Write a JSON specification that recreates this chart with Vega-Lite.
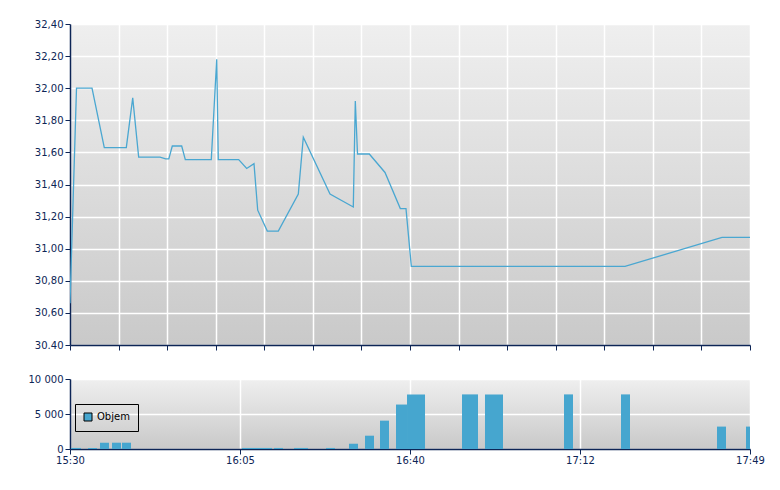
{
  "$schema": "https://vega.github.io/schema/vega-lite/v6.json",
  "padding": {"left": 28, "top": 19, "right": 5, "bottom": 5},
  "background": "white",
  "spacing": 34,
  "bounds": "flush",
  "config": {
    "font": "DejaVu Sans",
    "view": {
      "stroke": null,
      "fill": {"gradient": "linear", "x1": 0, "y1": 0, "x2": 0, "y2": 1,
        "stops": [{"offset": 0, "color": "#efefef"}, {"offset": 1, "color": "#c9c9c9"}]}
    },
    "axis": {
      "domainColor": "#0d2556", "tickColor": "#0d2556", "labelColor": "#0d2556",
      "labelFont": "DejaVu Sans", "labelFontSize": 10, "tickSize": 5, "labelPadding": 2,
      "gridColor": "#ffffff", "gridWidth": 1.5, "gridOpacity": 1, "title": null, "domainWidth": 1.5,
      "labelOverlap": false
    },
    "axisY": {"labelOverlap": false}
  },
  "datasets": {
    "price": [
      {"t": 0, "p": 30.66},
      {"t": 1.33, "p": 32.0},
      {"t": 4.5, "p": 32.0},
      {"t": 7.01, "p": 31.63},
      {"t": 11.51, "p": 31.63},
      {"t": 12.82, "p": 31.94},
      {"t": 14.04, "p": 31.57},
      {"t": 18.4, "p": 31.57},
      {"t": 19.56, "p": 31.56},
      {"t": 20.2, "p": 31.56},
      {"t": 20.91, "p": 31.64},
      {"t": 22.83, "p": 31.64},
      {"t": 23.57, "p": 31.555},
      {"t": 28.88, "p": 31.555},
      {"t": 29.99, "p": 32.18},
      {"t": 30.31, "p": 31.555},
      {"t": 34.48, "p": 31.555},
      {"t": 36.12, "p": 31.5},
      {"t": 37.61, "p": 31.53},
      {"t": 38.37, "p": 31.24},
      {"t": 40.33, "p": 31.11},
      {"t": 42.58, "p": 31.11},
      {"t": 46.67, "p": 31.34},
      {"t": 47.69, "p": 31.695},
      {"t": 53.15, "p": 31.34},
      {"t": 57.91, "p": 31.26},
      {"t": 58.32, "p": 31.92},
      {"t": 58.77, "p": 31.59},
      {"t": 61.18, "p": 31.59},
      {"t": 64.39, "p": 31.475},
      {"t": 67.52, "p": 31.25},
      {"t": 68.68, "p": 31.25},
      {"t": 69.77, "p": 30.89},
      {"t": 113.45, "p": 30.89},
      {"t": 133.28, "p": 31.07},
      {"t": 139, "p": 31.07}
    ],
    "volume": [
      {"t": 0.2, "t2": 2.25, "v": 150},
      {"t": 3.68, "t2": 5.52, "v": 150},
      {"t": 6.13, "t2": 7.97, "v": 900},
      {"t": 8.59, "t2": 10.42, "v": 900},
      {"t": 10.63, "t2": 12.47, "v": 900},
      {"t": 35.16, "t2": 41.29, "v": 150},
      {"t": 41.7, "t2": 43.54, "v": 150},
      {"t": 45.79, "t2": 48.65, "v": 150},
      {"t": 52.33, "t2": 54.17, "v": 150},
      {"t": 57.03, "t2": 58.87, "v": 750},
      {"t": 60.3, "t2": 62.14, "v": 1900},
      {"t": 63.37, "t2": 65.21, "v": 4050},
      {"t": 66.64, "t2": 68.89, "v": 6350},
      {"t": 68.89, "t2": 72.57, "v": 7800},
      {"t": 80.13, "t2": 83.4, "v": 7800},
      {"t": 84.83, "t2": 88.51, "v": 7800},
      {"t": 100.98, "t2": 102.82, "v": 7800},
      {"t": 112.63, "t2": 114.47, "v": 7800},
      {"t": 132.25, "t2": 134.09, "v": 3200},
      {"t": 138.18, "t2": 139, "v": 3200}
    ]
  },
  "vconcat": [
    {
      "width": 680,
      "height": 321,
      "layer": [
        {
          "data": {"name": "price"},
          "mark": {"type": "line", "color": "#4aa7d1", "strokeWidth": 1.3, "clip": true},
          "encoding": {
            "x": {"field": "t", "type": "quantitative",
              "scale": {"domain": [0, 139], "nice": false, "zero": false},
              "axis": {"values": [0, 9.9286, 19.8571, 29.7857, 39.7143, 49.6429, 59.5714, 69.5, 79.4286, 89.3571, 99.2857, 109.2143, 119.1429, 129.0714, 139], "labels": false}},
            "y": {"field": "p", "type": "quantitative",
              "scale": {"domain": [30.4, 32.4], "nice": false, "zero": false},
              "axis": {"values": [30.4, 30.6, 30.8, 31.0, 31.2, 31.4, 31.6, 31.8, 32.0, 32.2, 32.4],
                "labelOverlap": false, "labelSeparation": 0,
                "labelExpr": "datum.value <= 30.4 ? '30.40' : replace(format(datum.value, '.2f'), '.', ',')"}}
          }
        },
        {
          "mark": {"type": "rule", "color": "#e2484b", "strokeWidth": 1.3},
          "encoding": {"y": {"datum": 31.98, "type": "quantitative",
              "axis": {"values": [30.4, 30.6, 30.8, 31.0, 31.2, 31.4, 31.6, 31.8, 32.0, 32.2, 32.4],
                "labelOverlap": false, "labelSeparation": 0,
                "labelExpr": "datum.value <= 30.4 ? '30.40' : replace(format(datum.value, '.2f'), '.', ',')"}}}
        },
        {
          "mark": {"type": "text", "text": "www.patria.cz", "align": "right", "baseline": "alphabetic", "fontSize": 10, "color": "#0d2556", "dx": -7},
          "encoding": {"x": {"datum": 139, "type": "quantitative"},
            "y": {"datum": 30.52, "type": "quantitative",
              "axis": {"values": [30.4, 30.6, 30.8, 31.0, 31.2, 31.4, 31.6, 31.8, 32.0, 32.2, 32.4],
                "labelOverlap": false, "labelSeparation": 0,
                "labelExpr": "datum.value <= 30.4 ? '30.40' : replace(format(datum.value, '.2f'), '.', ',')"}}}
        }
      ]
    },
    {
      "width": 680,
      "height": 70,
      "data": {"name": "volume"},
      "mark": {"type": "bar", "clip": true},
      "encoding": {
        "x": {"field": "t", "type": "quantitative",
          "scale": {"domain": [0, 139], "nice": false, "zero": false},
          "axis": {"values": [0, 34.75, 69.5, 104.25, 139], "labelFlush": false, "labelPadding": 1,
            "labelExpr": "datum.value == 0 ? '15:30' : datum.value == 34.75 ? '16:05' : datum.value == 69.5 ? '16:40' : datum.value == 104.25 ? '17:12' : '17:49'"}},
        "x2": {"field": "t2"},
        "y": {"field": "v", "type": "quantitative",
          "scale": {"domain": [0, 10000], "nice": false},
          "axis": {"values": [0, 5000, 10000], "labelExpr": "replace(format(datum.value, ','), ',', ' ')"}},
        "y2": {"datum": 0},
        "color": {"datum": "Objem", "type": "nominal",
          "scale": {"range": ["#46a6cf"]},
          "legend": {"title": null, "orient": "none", "legendX": 5, "legendY": 380,
            "strokeColor": "#000000", "fillColor": null, "padding": 8,
            "symbolType": "square", "symbolSize": 64, "symbolStrokeColor": "#000000", "symbolStrokeWidth": 1,
            "labelFontSize": 10, "labelColor": "#000000", "labelFont": "DejaVu Sans"}}
      }
    }
  ]
}
